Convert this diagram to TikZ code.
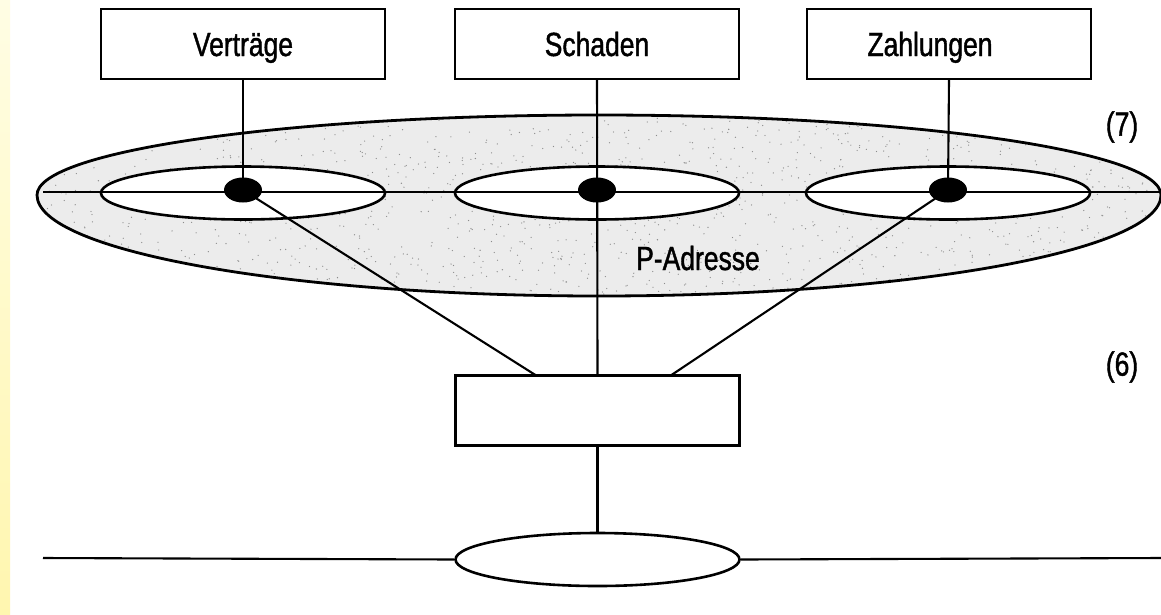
\documentclass[tikz,border=0pt]{standalone}
\usepackage{fontspec}
\newfontfamily\labelfont{Liberation Sans}[FakeStretch=0.79, FakeBold=1.2]
\usetikzlibrary{shapes.geometric}

\definecolor{stripetop}{RGB}{255,253,228}
\definecolor{stripebottom}{RGB}{255,246,175}
\definecolor{stipple}{RGB}{236,236,236}

\tikzset{
  every node/.style={font=\labelfont\fontsize{33.5}{38}\selectfont},
  entity/.style={draw, line width=2.2pt, minimum width=284pt, minimum height=70pt,
                 inner sep=0pt, fill=white, text height=24pt, text depth=0pt},
  relation/.style={ellipse, draw, line width=2.6pt, minimum width=284pt, minimum height=53pt, inner sep=0pt, fill=white},
  keydot/.style={ellipse, fill=black, minimum width=38pt, minimum height=25pt, inner sep=0pt},
  link/.style={line width=2.1pt},
  outline/.style={line width=2.8pt},
  tag/.style={inner sep=0pt}
}

\begin{document}
\begin{tikzpicture}[x=1pt, y=-1pt]
  \useasboundingbox (0,0) rectangle (1161,614);
  \fill[white] (0,0) rectangle (1161,614);
  \shade[top color=stripetop, bottom color=stripebottom] (0,0) rectangle (10,614);

  % shaded address ring
  \def\ringpath{(37,195) arc[start angle=180, end angle=360, x radius=562, y radius=80]
                 arc[start angle=0, end angle=180, x radius=562, y radius=101] -- cycle}
  \fill[stipple] \ringpath;
  \begin{scope}
    \clip \ringpath;
    \pgfmathsetseed{4711}
    \foreach \i in {1,...,1600} {
      \pgfmathsetmacro{\px}{598+562*rand}
      \pgfmathsetmacro{\py}{198+100*rand}
      \fill[black!45] (\px,\py) circle[radius=0.65pt];
    }
  \end{scope}
  \draw[outline] \ringpath;

  % relationships on the address ring
  \node[relation] (rv) at (243,193) {};
  \node[relation] (rs) at (597,193) {};
  \node[relation] (rz) at (948,193) {};
  \coordinate (hl) at (43,192);
  \coordinate (hr) at (1161,192);
  \draw[link] (hl) -- (hr);

  % entities
  \node[entity] (v) at (243,44) {Verträge};
  \node[entity] (s) at (597,44) {Schaden};
  \node[entity] (z) at (949,44) {\hspace*{-38pt}Zahlungen};
  \node[entity] (m) at (597.5,410.5) {};

  % key dots
  \coordinate (dv) at (243,190);
  \coordinate (ds) at (597,190);
  \coordinate (dz) at (948,190);
  \coordinate (ml) at (537,376);
  \coordinate (mr) at (670,376);

  \draw[link] (v.south) -- (dv);
  \draw[link] (s.south) -- (m.north);
  \draw[link] (z.south) -- (dz);
  \draw[link] (dv) -- (ml);
  \draw[link] (dz) -- (mr);

  \node[keydot] (kv) at (dv) {};
  \node[keydot] (ks) at (ds) {};
  \node[keydot] (kz) at (dz) {};

  \node[tag, anchor=base west] (pa) at (636,270) {P-Adresse};
  \node[tag] (l7) at (1122,127) {(7)};
  \node[tag] (l6) at (1122,367) {(6)};

  % lower relationship and its line
  \node[relation] (b) at (597.5,559.5) {};
  \draw[link] (m.south) -- (b.north);
  \coordinate (bl) at (43,558);
  \coordinate (br) at (1161,558);
  \draw[link] (bl) -- (b.west);
  \draw[link] (b.east) -- (br);
\end{tikzpicture}
\end{document}
